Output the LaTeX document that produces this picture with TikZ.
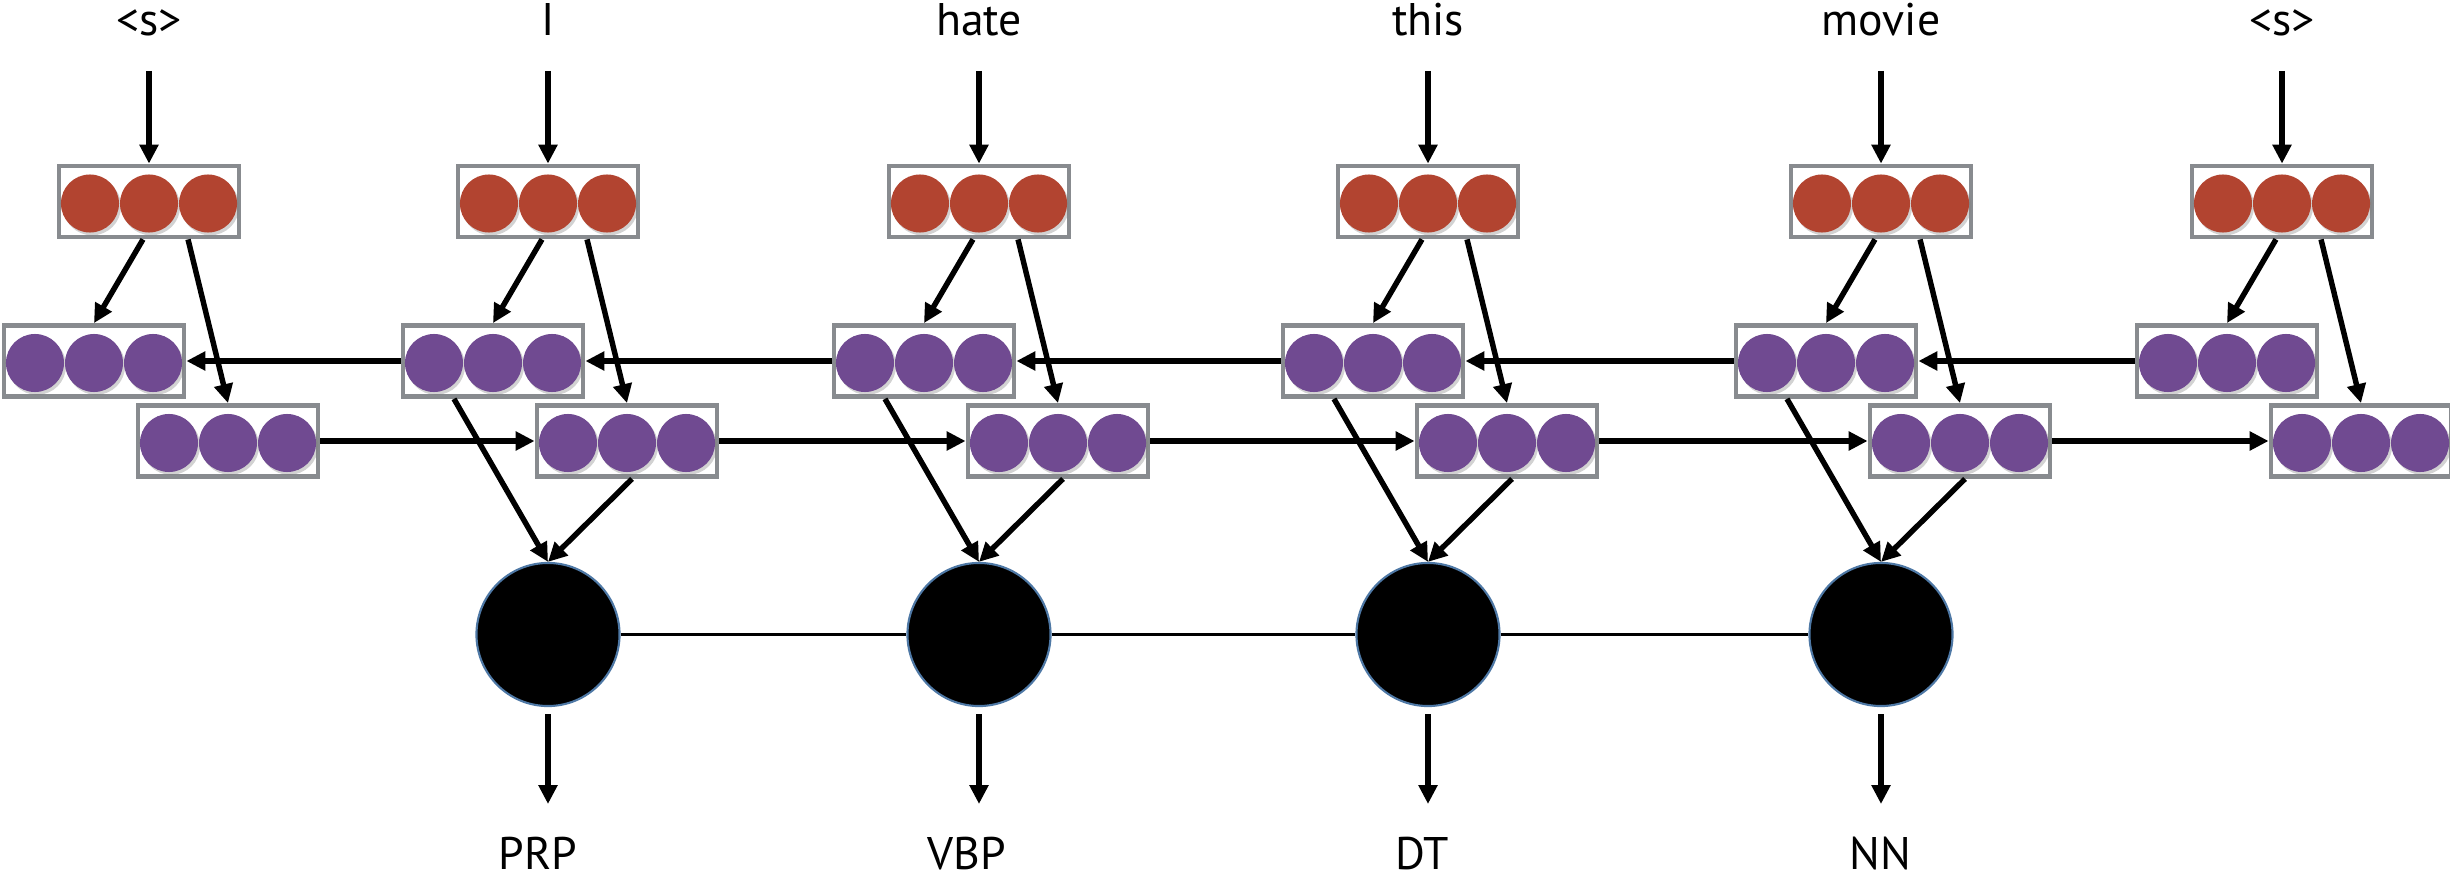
\documentclass[tikz,border=0pt]{standalone}
\usepackage{fontspec}
\setmainfont{PT Sans}
\usetikzlibrary{arrows.meta,shadows}

\definecolor{cellred}{RGB}{178,68,48}
\definecolor{cellpurple}{RGB}{112,74,145}
\definecolor{boxgray}{RGB}{136,139,143}
\definecolor{rimblue}{RGB}{78,120,165}

\tikzset{
  vecbox/.style={draw=boxgray, line width=1.35pt, fill=white,
    minimum width=1.80cm, minimum height=0.71cm, inner sep=0pt},
  tagnode/.style={circle, fill=black, draw=rimblue, line width=0.6pt,
    minimum size=1.43cm, inner sep=0pt},
  word/.style={font=\fontsize{13}{15}\selectfont, anchor=base, inner sep=0pt},
  link/.style={line width=1.55pt, -{Triangle[length=5.4pt,width=5.2pt]}},
  chainline/.style={line width=1pt},
  cellshade/.style={drop shadow={opacity=0.35, shadow xshift=0.6pt, shadow yshift=-0.8pt}},
}

% three touching cells inside a vector box
\newcommand\cellrow[2]{%
  \foreach \dx in {-0.59cm,0cm,0.59cm}
    \fill[#2, cellshade] ([xshift=\dx, yshift=-0.02cm]#1.center) circle (0.29cm);
}

\begin{document}
\begin{tikzpicture}[x=0.01cm, y=-0.01cm]
\useasboundingbox (0,0) rectangle (2450,879);

% input words, embeddings and the two recurrent layers
\foreach \i/\cx/\lbl in {1/149/{<s>},2/548/I,3/979/hate,4/1428/this,5/1881/movie,6/2282/{<s>}} {
  \node[word] (w\i) at (\cx,36) {\lbl};
  \coordinate (i\i) at (\cx,71);
  \node[vecbox] (r\i) at (\cx,201.5) {};
  \cellrow{r\i}{cellred}
  \node[vecbox] (p\i) at (\cx-55,361) {};
  \cellrow{p\i}{cellpurple}
  \node[vecbox] (q\i) at (\cx+79,441) {};
  \cellrow{q\i}{cellpurple}
  \draw[link] (i\i) -- (r\i.north);
  \draw[link] ([xshift=-0.06cm]r\i.south) -- (p\i.north);
  \draw[link] ([xshift=0.39cm]r\i.south) -- (q\i.north);
}

% backward layer runs right to left
\foreach \i/\j in {2/1,3/2,4/3,5/4,6/5}
  \draw[link] (p\i.west) -- (p\j.east);

% forward layer runs left to right
\foreach \i/\j in {1/2,2/3,3/4,4/5,5/6}
  \draw[link] (q\i.east) -- (q\j.west);

% tag variables and their outputs
\foreach \i/\cx/\lbl/\tx in {2/548/PRP/538,3/979/VBP/967,4/1428/DT/1422,5/1881/NN/1880} {
  \node[tagnode] (b\i) at (\cx,634.5) {};
  \draw[link] ([xshift=-0.39cm]p\i.south) -- (b\i.north);
  \draw[link] ([xshift=0.05cm]q\i.south) -- (b\i.north);
  \coordinate (o\i) at (\cx,804);
  \draw[link] ([yshift=-0.07cm]b\i.south) -- (o\i);
  \node[word] (t\i) at (\tx,869) {\lbl};
}
\draw[chainline] (b2) -- (b3) -- (b4) -- (b5);
\end{tikzpicture}
\end{document}
